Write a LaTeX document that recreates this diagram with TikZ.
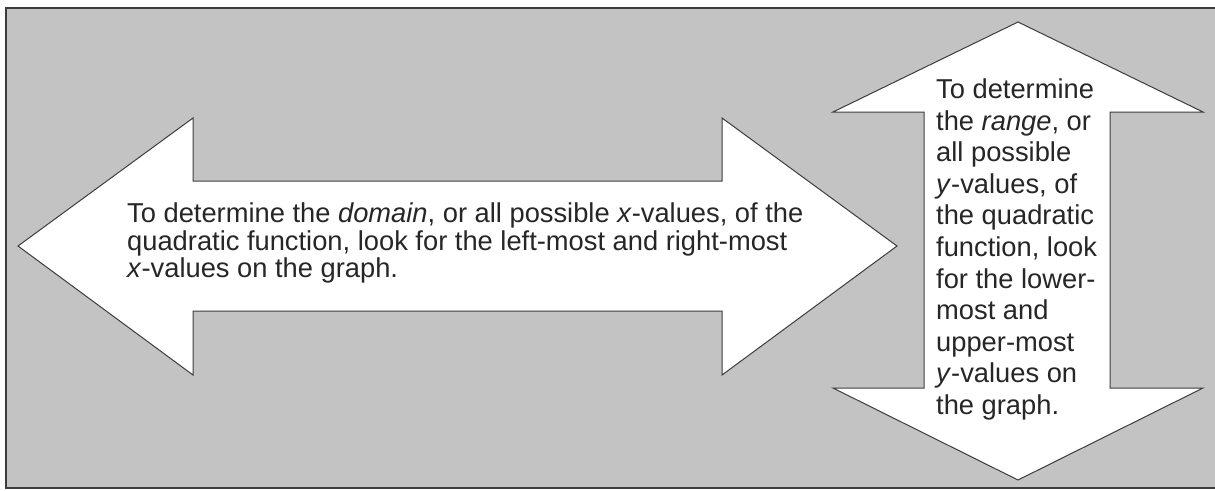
\documentclass[tikz,border=0pt]{standalone}
\usepackage{fontspec}
\setmainfont{Liberation Sans}
\definecolor{bggray}{RGB}{195,195,195}
\definecolor{edgegray}{RGB}{60,60,60}
\tikzset{
  panel/.style={fill=bggray, draw=edgegray, line width=2pt},
  arrowshape/.style={fill=white, draw=edgegray, line width=1pt, line join=miter},
  txt/.style={anchor=base west, inner sep=0pt, font=\fontsize{27.3}{30}\selectfont, text=black!85}
}
\begin{document}
\begin{tikzpicture}[x=1pt,y=-1pt]
\useasboundingbox (0,0) rectangle (1215,490);
\draw[panel] (6,8) rectangle (1222,488);
% horizontal double arrow
\draw[arrowshape] (18,246) -- (193,118) -- (193,181) -- (722,181) -- (722,118) -- (897,246)
  -- (722,375) -- (722,311) -- (193,311) -- (193,375) -- cycle;
% vertical double arrow
\draw[arrowshape] (1018,22) -- (1203,112) -- (1110,112) -- (1110,388) -- (1203,388) -- (1018,480)
  -- (833,388) -- (924,388) -- (924,112) -- (833,112) -- cycle;
% left text
\node[txt] (h1) at (127,222.5) {To determine the \textit{domain}, or all possible \textit{x}-values, of the};
\node[txt] (h2) at (127,250) {quadratic function, look for the left-most and right-most};
\node[txt] (h3) at (127,277.5) {\textit{x}-values on the graph.};
% right text
\node[txt] (v1) at (936,98.5) {To determine};
\node[txt] (v2) at (936,130.1) {the \textit{range}, or};
\node[txt] (v3) at (936,161.7) {all possible};
\node[txt] (v4) at (936,193.3) {\textit{y}-values, of};
\node[txt] (v5) at (936,224.9) {the quadratic};
\node[txt] (v6) at (936,256.5) {function, look};
\node[txt] (v7) at (936,288.1) {for the lower-};
\node[txt] (v8) at (936,319.7) {most and};
\node[txt] (v9) at (936,351.3) {upper-most};
\node[txt] (v10) at (936,382.9) {\textit{y}-values on};
\node[txt] (v11) at (936,414.5) {the graph.};
\end{tikzpicture}
\end{document}
